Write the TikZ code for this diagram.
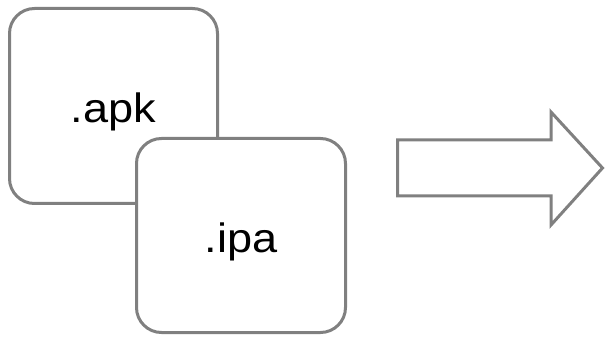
\documentclass[tikz,border=0pt]{standalone}
\usepackage{fontspec}
\setmainfont{Liberation Sans}
\usetikzlibrary{positioning}
\definecolor{edgegray}{RGB}{128,128,128}
\newcommand{\wide}[1]{\scalebox{1.1}[1]{#1}}

\begin{document}
\begin{tikzpicture}[x=1pt,y=-1pt,
  filebox/.style={draw=edgegray, line width=3pt, fill=white, rounded corners=25pt,
    inner sep=0pt, text height=33pt, text depth=0pt,
    font=\fontsize{41}{49}\selectfont}]
\useasboundingbox (0,0) rectangle (605,339);
\node[filebox, minimum width=208pt, minimum height=195pt] (apk) at (113.5,106) {\wide{.apk}};
\node[filebox, minimum width=209pt, minimum height=194pt] (ipa) at (241,235.5) {\wide{.ipa}};
% block arrow
\draw[edgegray, line width=3pt, line join=miter]
  (397.5,140) -- (551,140) -- (551,112) -- (602.5,168) -- (551,225) -- (551,196) -- (397.5,196) -- cycle;
\end{tikzpicture}
\end{document}
